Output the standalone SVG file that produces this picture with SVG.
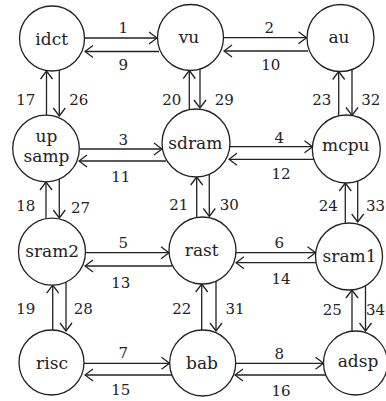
<svg xmlns="http://www.w3.org/2000/svg" width="386" height="401" viewBox="0 0 386 401">
<defs>
<marker id="ah" markerUnits="userSpaceOnUse" markerWidth="12" markerHeight="14" viewBox="0 0 12 14" refX="11" refY="7" orient="auto">
<path d="M3,1 L11,7 L3,13" fill="none" stroke="#222" stroke-width="1.3"/>
</marker>
</defs>
<style>
text{fill:#222;text-anchor:middle}
.n{fill:#fff;stroke:#222;stroke-width:1.3}
.t{font-size:17px}
.l{font-size:15px}
.e line{stroke:#222;stroke-width:1.3;marker-end:url(#ah)}
</style>
<rect width="386" height="401" fill="#fff"/>
<g id="connectors" class="e">
<line x1="85" y1="38" x2="157" y2="38"/>
<line x1="159" y1="51.5" x2="85" y2="51.5"/>
<line x1="224" y1="37.7" x2="306.5" y2="37.7"/>
<line x1="308" y1="51" x2="224" y2="51"/>
<line x1="79.5" y1="149" x2="162" y2="149"/>
<line x1="166" y1="161" x2="79" y2="161"/>
<line x1="230" y1="146.7" x2="312.5" y2="146.7"/>
<line x1="314" y1="159.3" x2="229" y2="159.3"/>
<line x1="85.5" y1="252.7" x2="169" y2="252.7"/>
<line x1="172" y1="266" x2="85" y2="266"/>
<line x1="236" y1="252.7" x2="315.5" y2="252.7"/>
<line x1="317" y1="262.7" x2="236" y2="262.7"/>
<line x1="84" y1="363.3" x2="169.5" y2="363.3"/>
<line x1="172" y1="375" x2="85" y2="375"/>
<line x1="235.7" y1="363.3" x2="323.5" y2="363.3"/>
<line x1="326" y1="375" x2="235" y2="375"/>
<line x1="46.5" y1="115" x2="46.5" y2="71"/>
<line x1="59.3" y1="70" x2="59.3" y2="116"/>
<line x1="189.3" y1="109.5" x2="189.3" y2="70.5"/>
<line x1="200" y1="69" x2="200" y2="108"/>
<line x1="338.7" y1="116" x2="338.7" y2="71.5"/>
<line x1="352" y1="69.5" x2="352" y2="115.5"/>
<line x1="46" y1="218.5" x2="46" y2="182"/>
<line x1="59.3" y1="179" x2="59.3" y2="218"/>
<line x1="196.7" y1="217.5" x2="196.7" y2="177"/>
<line x1="209.3" y1="174.3" x2="209.3" y2="216.5"/>
<line x1="345.3" y1="223" x2="345.3" y2="183"/>
<line x1="357.7" y1="181" x2="357.7" y2="222"/>
<line x1="52.7" y1="330" x2="52.7" y2="285.2"/>
<line x1="66" y1="282" x2="66" y2="331"/>
<line x1="201.7" y1="330" x2="201.7" y2="284"/>
<line x1="216" y1="281" x2="216" y2="331"/>
<line x1="352" y1="331" x2="352" y2="290"/>
<line x1="365.5" y1="285.7" x2="365.5" y2="331"/>
</g>
<g id="edge-labels" font-family="DejaVu Serif, serif">
<text class="l" x="123.3" y="33.3">1</text>
<text class="l" x="123.3" y="70">9</text>
<text class="l" x="269.3" y="33.3">2</text>
<text class="l" x="270.7" y="70">10</text>
<text class="l" x="123.3" y="145">3</text>
<text class="l" x="120.7" y="181.7">11</text>
<text class="l" x="279.3" y="142.7">4</text>
<text class="l" x="281" y="179.3">12</text>
<text class="l" x="123.3" y="247.7">5</text>
<text class="l" x="120.7" y="287.7">13</text>
<text class="l" x="279.3" y="248.3">6</text>
<text class="l" x="281" y="284">14</text>
<text class="l" x="123.3" y="357.7">7</text>
<text class="l" x="120.7" y="395">15</text>
<text class="l" x="279.3" y="359.3">8</text>
<text class="l" x="281" y="396">16</text>
<text class="l" x="25.7" y="105">17</text>
<text class="l" x="78.7" y="105">26</text>
<text class="l" x="171.7" y="105">20</text>
<text class="l" x="224.3" y="105">29</text>
<text class="l" x="321.8" y="105">23</text>
<text class="l" x="370.8" y="105">32</text>
<text class="l" x="25.7" y="211">18</text>
<text class="l" x="80.5" y="213">27</text>
<text class="l" x="178.7" y="210">21</text>
<text class="l" x="229.3" y="210">30</text>
<text class="l" x="328.2" y="210.7">24</text>
<text class="l" x="375.5" y="210.7">33</text>
<text class="l" x="25.8" y="314.3">19</text>
<text class="l" x="83.3" y="314.3">28</text>
<text class="l" x="181.7" y="314.3">22</text>
<text class="l" x="235" y="314.3">31</text>
<text class="l" x="332.2" y="315">25</text>
<text class="l" x="375.5" y="315">34</text>
</g>
<g id="nodes" font-family="DejaVu Serif, serif">
<g id="idct"><circle class="n" cx="52" cy="38.5" r="32.5"/><text class="t" x="51.7" y="44.5">idct</text></g>
<g id="vu"><circle class="n" cx="190.5" cy="37.5" r="33"/><text class="t" x="189" y="43">vu</text></g>
<g id="au"><circle class="n" cx="340.5" cy="38" r="33.5"/><text class="t" x="339" y="43">au</text></g>
<g id="upsamp"><circle class="n" cx="46" cy="148.5" r="33.3"/><text class="t" x="46.5" y="141.7">up</text><text class="t" x="46.5" y="162">samp</text></g>
<g id="sdram"><circle class="n" cx="196" cy="143" r="34"/><text class="t" x="195.3" y="148.5">sdram</text></g>
<g id="mcpu"><circle class="n" cx="346.3" cy="149" r="34"/><text class="t" x="345.8" y="150.5">mcpu</text></g>
<g id="sram2"><circle class="n" cx="52" cy="251.7" r="33.5"/><text class="t" x="52.2" y="257">sram2</text></g>
<g id="rast"><circle class="n" cx="202.5" cy="250.5" r="33.5"/><text class="t" x="201.7" y="255.5">rast</text></g>
<g id="sram1"><circle class="n" cx="349" cy="256.5" r="33.5"/><text class="t" x="349.5" y="262">sram1</text></g>
<g id="risc"><circle class="n" cx="51.5" cy="362.5" r="32.5"/><text class="t" x="52" y="368.5">risc</text></g>
<g id="bab"><circle class="n" cx="202.7" cy="363" r="33"/><text class="t" x="202" y="369">bab</text></g>
<g id="adsp"><circle class="n" cx="355.5" cy="363" r="32"/><text class="t" x="358" y="367">adsp</text></g>
</g>
</svg>
